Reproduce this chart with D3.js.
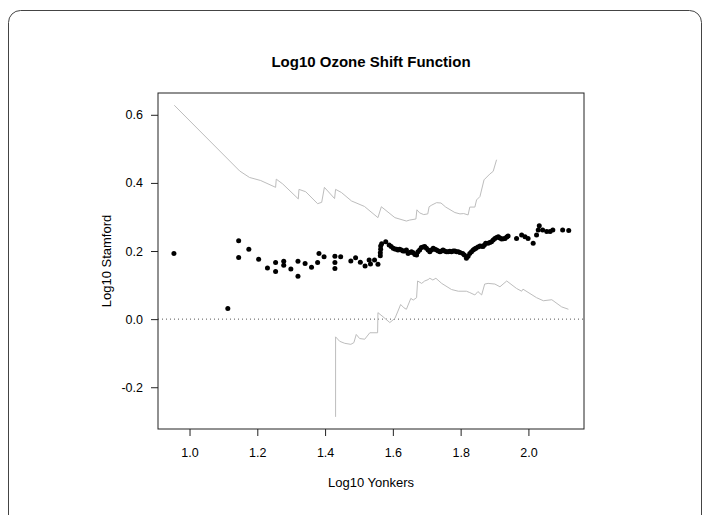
<!DOCTYPE html>
<html>
<head>
<meta charset="utf-8">
<script src="https://cdn.jsdelivr.net/npm/d3@7"></script>
<style>
  body { margin: 0; background: #fff; }
  svg { display: block; font-family: "Liberation Sans", Arial, Helvetica, sans-serif; }
</style>
</head>
<body>
<svg id="chart" width="710" height="515"></svg>
<script>
// quantile shift points: [log10 Yonkers, shift]
const shiftPoints = [
  [0.954,0.193],[1.113,0.031],[1.145,0.230],[1.145,0.181],[1.175,0.205],[1.204,0.176],
  [1.230,0.150],[1.254,0.166],[1.254,0.140],[1.278,0.170],[1.278,0.158],[1.299,0.147],
  [1.320,0.170],[1.320,0.126],[1.341,0.163],[1.360,0.152],[1.378,0.166],[1.382,0.193],
  [1.397,0.183],[1.429,0.185],[1.429,0.166],[1.429,0.149],[1.446,0.183],[1.476,0.171],
  [1.490,0.180],[1.504,0.167],[1.518,0.156],[1.530,0.174],[1.534,0.162],[1.546,0.174],
  [1.556,0.161],[1.563,0.186],[1.563,0.195],[1.564,0.205],[1.564,0.215],[1.567,0.221],
  [1.579,0.227],[1.589,0.218],[1.595,0.213],[1.601,0.208],[1.606,0.206],[1.611,0.205],
  [1.615,0.203],[1.620,0.205],[1.625,0.203],[1.630,0.200],[1.635,0.200],[1.640,0.203],
  [1.645,0.193],[1.650,0.196],[1.655,0.198],[1.660,0.195],[1.665,0.190],[1.670,0.188],
  [1.674,0.198],[1.679,0.203],[1.684,0.210],[1.689,0.212],[1.694,0.213],[1.699,0.208],
  [1.704,0.203],[1.709,0.198],[1.714,0.203],[1.719,0.208],[1.724,0.205],[1.729,0.203],
  [1.734,0.200],[1.739,0.198],[1.744,0.200],[1.748,0.203],[1.753,0.200],[1.758,0.198],
  [1.763,0.198],[1.768,0.199],[1.773,0.198],[1.778,0.200],[1.783,0.200],[1.788,0.198],
  [1.793,0.198],[1.798,0.196],[1.806,0.193],[1.811,0.188],[1.817,0.179],[1.822,0.185],
  [1.827,0.193],[1.832,0.198],[1.837,0.203],[1.841,0.206],[1.845,0.208],[1.851,0.212],
  [1.857,0.215],[1.861,0.214],[1.866,0.213],[1.870,0.218],[1.874,0.223],[1.881,0.223],
  [1.886,0.225],[1.891,0.227],[1.896,0.232],[1.901,0.237],[1.906,0.240],[1.911,0.242],
  [1.916,0.238],[1.921,0.235],[1.926,0.236],[1.931,0.237],[1.936,0.241],[1.940,0.244],
  [1.965,0.237],[1.980,0.247],[1.990,0.242],[1.999,0.237],[2.014,0.223],[2.024,0.247],
  [2.029,0.262],[2.032,0.274],[2.042,0.262],[2.054,0.257],[2.064,0.257],[2.072,0.262],
  [2.101,0.262],[2.119,0.260]
];

// upper confidence band
const upperBand = [
  [0.955,0.628],[1.148,0.435],[1.177,0.416],[1.210,0.407],[1.254,0.387],[1.256,0.411],
  [1.275,0.397],[1.321,0.353],[1.323,0.381],[1.343,0.374],[1.378,0.339],[1.390,0.343],
  [1.398,0.387],[1.428,0.354],[1.431,0.381],[1.448,0.372],[1.478,0.347],[1.516,0.331],
  [1.556,0.298],[1.566,0.330],[1.606,0.298],[1.640,0.288],[1.650,0.291],[1.668,0.294],
  [1.671,0.321],[1.679,0.312],[1.691,0.307],[1.703,0.309],[1.707,0.330],[1.715,0.335],
  [1.729,0.342],[1.742,0.341],[1.756,0.329],[1.783,0.313],[1.798,0.309],[1.809,0.310],
  [1.822,0.306],[1.827,0.329],[1.842,0.329],[1.847,0.350],[1.857,0.360],[1.869,0.409],
  [1.886,0.426],[1.896,0.434],[1.906,0.468]
];

// lower confidence band
const lowerBand = [
  [1.431,-0.287],[1.431,-0.052],[1.443,-0.065],[1.458,-0.071],[1.476,-0.074],[1.485,-0.069],
  [1.492,-0.045],[1.502,-0.057],[1.517,-0.059],[1.532,-0.040],[1.555,-0.040],[1.556,0.019],
  [1.571,0.007],[1.591,-0.010],[1.606,0.002],[1.614,0.021],[1.623,0.043],[1.633,0.033],
  [1.640,0.029],[1.653,0.061],[1.660,0.056],[1.670,0.063],[1.673,0.112],[1.685,0.105],
  [1.694,0.112],[1.704,0.116],[1.709,0.120],[1.718,0.115],[1.727,0.120],[1.744,0.105],
  [1.773,0.087],[1.793,0.082],[1.817,0.082],[1.827,0.078],[1.842,0.071],[1.851,0.081],
  [1.862,0.071],[1.871,0.103],[1.881,0.105],[1.901,0.103],[1.916,0.095],[1.936,0.112],
  [1.965,0.090],[1.980,0.082],[1.984,0.088],[2.024,0.063],[2.044,0.054],[2.069,0.057],
  [2.098,0.036],[2.118,0.029]
];

const xTicks = [1.0, 1.2, 1.4, 1.6, 1.8, 2.0];
const yTicks = [-0.2, 0.0, 0.2, 0.4, 0.6];

const svg = d3.select('#chart');

// outer frame
svg.append('rect')
  .attr('x', 8.5).attr('y', 10.5)
  .attr('width', 693).attr('height', 540)
  .attr('rx', 12)
  .attr('fill', 'none')
  .attr('stroke', '#444');

const plot = { left: 158, right: 584, top: 93, bottom: 429 };

const x = d3.scaleLinear().domain([0.907, 2.164]).range([plot.left, plot.right]);
const y = d3.scaleLinear().domain([-0.3226, 0.664]).range([plot.bottom, plot.top]);

// zero reference
svg.append('line')
  .attr('x1', plot.left).attr('x2', plot.right)
  .attr('y1', y(0)).attr('y2', y(0))
  .attr('stroke', '#555')
  .attr('stroke-dasharray', '1,3');

const line = d3.line().x(d => x(d[0])).y(d => y(d[1]));

svg.selectAll('path.band')
  .data([upperBand, lowerBand])
  .join('path')
  .attr('class', 'band')
  .attr('d', line)
  .attr('fill', 'none')
  .attr('stroke', '#bdbdbd')
  .attr('stroke-width', 1);

svg.append('g')
  .selectAll('circle')
  .data(shiftPoints)
  .join('circle')
  .attr('cx', d => x(d[0]))
  .attr('cy', d => y(d[1]))
  .attr('r', 2.5)
  .attr('fill', '#000');

// box
svg.append('rect')
  .attr('x', plot.left).attr('y', plot.top)
  .attr('width', plot.right - plot.left).attr('height', plot.bottom - plot.top)
  .attr('fill', 'none')
  .attr('stroke', '#222');

const fmt = d => d.toFixed(1);

const xAxis = svg.append('g')
  .attr('transform', `translate(0,${plot.bottom})`)
  .call(d3.axisBottom(x).tickValues(xTicks).tickFormat(fmt).tickSize(7).tickPadding(12))
  .call(g => g.select('.domain').remove());

const yAxis = svg.append('g')
  .attr('transform', `translate(${plot.left},0)`)
  .call(d3.axisLeft(y).tickValues(yTicks).tickFormat(fmt).tickSize(7).tickPadding(8))
  .call(g => g.select('.domain').remove());

[xAxis, yAxis].forEach(g => {
  g.selectAll('.tick line').attr('stroke', '#222');
  g.selectAll('.tick text')
    .attr('fill', '#000')
    .style('font-size', '12.5px')
    .style('font-family', '"Liberation Sans", Arial, sans-serif');
});

svg.append('text')
  .attr('x', (plot.left + plot.right) / 2)
  .attr('y', 67)
  .attr('text-anchor', 'middle')
  .style('font-size', '15px')
  .style('font-weight', 'bold')
  .text('Log10 Ozone Shift Function');

svg.append('text')
  .attr('x', (plot.left + plot.right) / 2)
  .attr('y', 487)
  .attr('text-anchor', 'middle')
  .style('font-size', '13px')
  .text('Log10 Yonkers');

svg.append('text')
  .attr('transform', `translate(111,${(plot.top + plot.bottom) / 2}) rotate(-90)`)
  .attr('text-anchor', 'middle')
  .style('font-size', '13px')
  .text('Log10 Stamford');
</script>
</body>
</html>
